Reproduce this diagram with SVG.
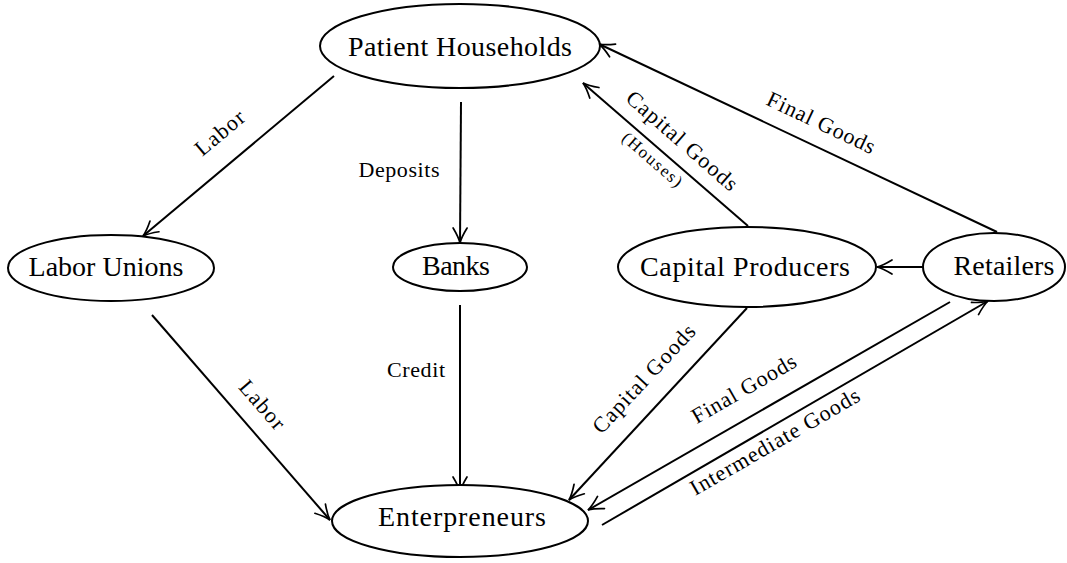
<svg xmlns="http://www.w3.org/2000/svg" width="1067" height="563" viewBox="0 0 1067 563">
  <style>
    .node ellipse { fill: #fff; stroke: #000; stroke-width: 2; }
    .node text { font-family: "Liberation Serif", "Times New Roman", serif; font-size: 28px; fill: #000; text-anchor: middle; }
    .edge line { stroke: #000; stroke-width: 2; marker-end: url(#head); }
    .lbl { font-family: "Liberation Serif", "Times New Roman", serif; font-size: 22px; fill: #000; text-anchor: middle; }
    .sub { font-size: 17px; }
  </style>
  <defs>
    <marker id="head" markerUnits="userSpaceOnUse" markerWidth="20" markerHeight="16" viewBox="-16 -8 20 16" refX="0" refY="0" orient="auto" overflow="visible">
      <path d="M -15 -7 Q -6 -1.5 0 0 Q -6 1.5 -15 7" fill="none" stroke="#000" stroke-width="1.7" stroke-linecap="round"/>
    </marker>
  </defs>

  <rect width="1067" height="563" fill="#fff"/>

  <!-- connectors -->
  <g id="connectors" class="edge">
    <line x1="334" y1="76" x2="143" y2="236"/>
    <line x1="461" y1="102" x2="460" y2="243"/>
    <line x1="460" y1="305" x2="460" y2="492"/>
    <line x1="152" y1="315" x2="330" y2="520"/>
    <line x1="748" y1="226" x2="583" y2="83"/>
    <line x1="997" y1="232" x2="599" y2="44"/>
    <line x1="923" y1="267" x2="877" y2="267"/>
    <line x1="747" y1="308" x2="569" y2="500"/>
    <line x1="950" y1="302" x2="588" y2="510"/>
    <line x1="602" y1="525" x2="988" y2="301"/>
  </g>

  <!-- connector labels -->
  <g id="labels">
    <text class="lbl" transform="translate(220 133) rotate(-40)" y="7" textLength="58">Labor</text>
    <text class="lbl" x="399" y="177" textLength="81">Deposits</text>
    <text class="lbl" x="416" y="377" textLength="58">Credit</text>
    <text class="lbl" transform="translate(262 405) rotate(49)" y="7" textLength="58">Labor</text>
    <text class="lbl" transform="translate(682 141) rotate(41)" y="7" textLength="140">Capital Goods</text>
    <text class="lbl sub" transform="translate(652 160) rotate(41)" y="5" textLength="74">(Houses)</text>
    <text class="lbl" transform="translate(821 123) rotate(25.3)" y="7" textLength="117">Final Goods</text>
    <text class="lbl" transform="translate(644 379) rotate(-47)" y="7" textLength="140">Capital Goods</text>
    <text class="lbl" transform="translate(744 389) rotate(-30)" y="7" textLength="117">Final Goods</text>
    <text class="lbl" transform="translate(775 442) rotate(-30)" y="7" textLength="192">Intermediate Goods</text>
  </g>

  <!-- nodes -->
  <g id="patient-households" class="node">
    <ellipse cx="460" cy="46" rx="140" ry="42"/>
    <text x="460" y="56" textLength="224">Patient Households</text>
  </g>
  <g id="labor-unions" class="node">
    <ellipse cx="111" cy="268" rx="103" ry="33"/>
    <text x="106" y="276" textLength="155">Labor Unions</text>
  </g>
  <g id="banks" class="node">
    <ellipse cx="460" cy="267" rx="67" ry="24"/>
    <text x="456" y="275" textLength="68">Banks</text>
  </g>
  <g id="capital-producers" class="node">
    <ellipse cx="747" cy="267" rx="129" ry="40"/>
    <text x="745" y="276" textLength="210">Capital Producers</text>
  </g>
  <g id="retailers" class="node">
    <ellipse cx="994" cy="267" rx="71" ry="34"/>
    <text x="1004" y="275" textLength="101">Retailers</text>
  </g>
  <g id="enterpreneurs" class="node">
    <ellipse cx="460" cy="521" rx="128" ry="36"/>
    <text x="462" y="526" textLength="168">Enterpreneurs</text>
  </g>
</svg>
